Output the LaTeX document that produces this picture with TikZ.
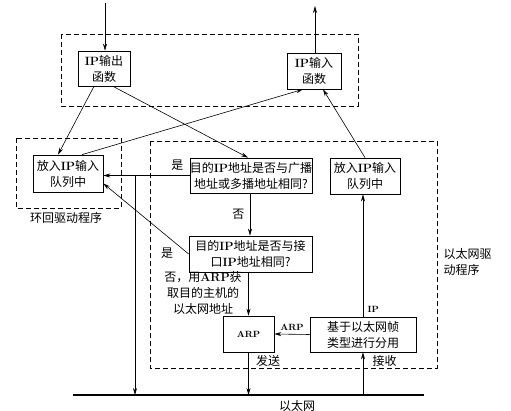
\documentclass[tikz,border=0pt]{standalone}
\usepackage{fontspec}
\usetikzlibrary{arrows.meta}
\newfontfamily\cjk{Noto Sans CJK SC}
\newcommand{\lat}[1]{{\normalfont\bfseries #1}}
\begin{document}
\begin{tikzpicture}[x=1pt,y=-1pt,>={Stealth[length=7pt,width=4pt]},
		font=\cjk\fontsize{12}{16}\selectfont,
		box/.style={draw,line width=0.7pt,inner sep=0pt,align=center},
		grp/.style={draw,line width=0.6pt,dash pattern=on 5pt off 3pt},
		link/.style={->,line width=0.6pt}]
	\useasboundingbox (0,0) rectangle (511,411);
	% dashed groups
	\draw[grp] (61,34) rectangle (358,106);
	\draw[grp] (16,138) rectangle (121,208);
	\draw[grp] (150,141) rectangle (437,368);
	\node (lblloop) at (66,218) {环回驱动程序};
	\node[anchor=west,align=left] (lbldrv) at (440,262) {以太网驱\\动程序};
	% boxes
	\node[box,minimum width=52pt,minimum height=35pt] (ipout) at (104,68.5) {\lat{IP}输出\\函数};
	\node[box,minimum width=54pt,minimum height=36pt] (ipin) at (314,71) {\lat{IP}输入\\函数};
	\node[box,minimum width=70pt,minimum height=37pt] (loopq) at (68,173.5) {放入\lat{IP}输入\\队列中};
	\node[box,minimum width=70pt,minimum height=36pt] (ethq) at (365,176) {放入\lat{IP}输入\\队列中};
	\node[box,minimum width=122pt,minimum height=35pt] (dec1) at (251,175.5) {目的\lat{IP}地址是否与广播\\地址或多播地址相同?};
	\node[box,minimum width=123pt,minimum height=36pt] (dec2) at (250.5,254) {目的\lat{IP}地址是否与接\\口\lat{IP}地址相同?};
	\node[box,minimum width=51pt,minimum height=36pt] (arp) at (248.5,334) {\lat{\small ARP}};
	\node[box,minimum width=106pt,minimum height=35pt] (demux) at (363,334.5) {基于以太网帧\\类型进行分用};
	% ethernet
	\coordinate (ethL) at (73,395);
	\coordinate (ethR) at (424,395);
	\draw[line width=2.5pt] (ethL) -- (ethR);
	\node (lbleth) at (297,406) {以太网};
	\coordinate (top1) at (105,3);
	\coordinate (top2) at (315,6);
	\coordinate (jn) at (135,0 |- dec1.west);
	% arrows
	\draw[link] (top1) -- (ipout.north -| top1);
	\draw[link] (ipin.north -| top2) -- (top2);
	\draw[link] ([xshift=-10pt]ipout.south) -- ([xshift=-10pt]loopq.north);
	\draw[link] ([xshift=9pt]ipout.south) -- ([xshift=-3pt]dec1.north);
	\draw[link] ([xshift=14pt]loopq.north) -- ([xshift=-11pt]ipin.south);
	\draw[link] (ethq.north) -- ([xshift=9pt]ipin.south);
	\draw[link] (dec1.west) -- (dec1.west -| loopq.east) node[pos=0.14,above=1pt] {是};
	\draw[link] (jn) -- (jn |- ethL);
	\draw[link] ([xshift=-1pt]dec1.south) -- ([xshift=-1pt]dec1.south |- dec2.north) node[midway,left=2pt] {否};
	\draw[link] (dec2.west) -- ([yshift=-10pt]loopq.east);
	\node (yes2) at (167,253) {是};
	\draw[link] (arp.north |- dec2.south) -- (arp.north);
	\node[align=center] (lblarp) at (203,293) {否，用\lat{ARP}获\\取目的主机的\\以太网地址};
	\draw[link] (arp.south) -- (arp.south |- ethL) node[pos=0.2,right=4pt] {发送};
	\draw[link] (demux.west) -- (arp.east) node[midway,above=0pt] {\lat{\small ARP}};
	\draw[link] (demux.north) -- (demux.north |- ethq.south) node[pos=0.06,right=1pt] {\lat{\small IP}};
	\draw[link] (demux.south |- ethL) -- (demux.south) node[pos=0.8,right=6pt] {接收};
\end{tikzpicture}
\end{document}
